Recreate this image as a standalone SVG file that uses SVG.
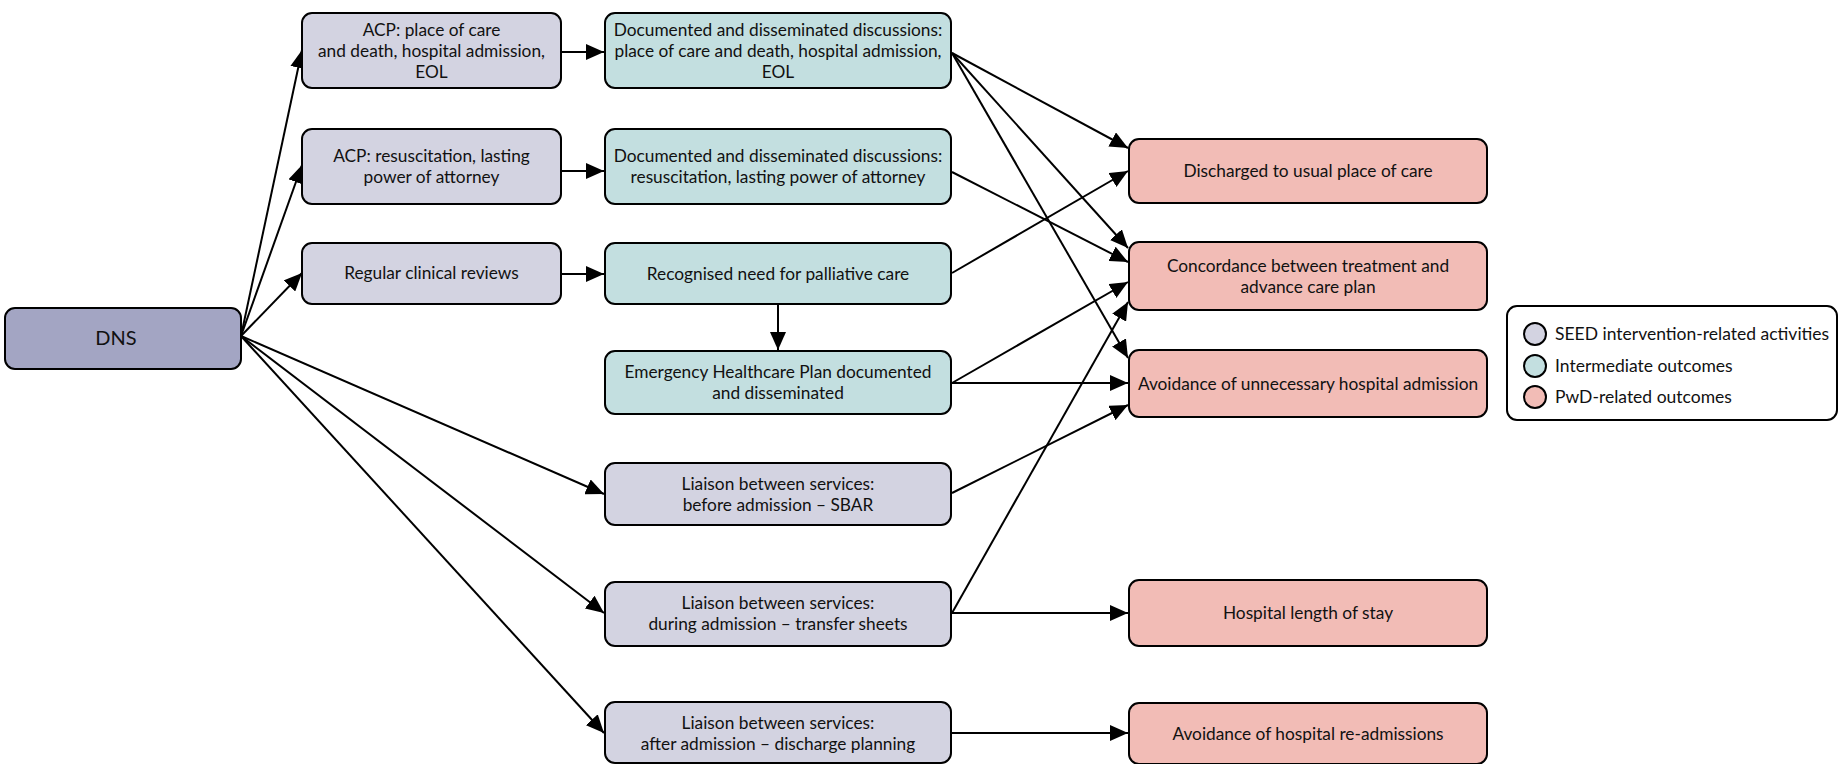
<svg xmlns="http://www.w3.org/2000/svg" width="1841" height="764" viewBox="0 0 1841 764">
<defs>
<style>
.box{stroke:#000;stroke-width:2}
.dns{fill:#a3a5c3}
.act{fill:#d3d3e1}
.mid{fill:#c3dfe0}
.out{fill:#f2bcb6}
.leg{fill:#fff;stroke:#000;stroke-width:2}
text{font-family:Lato,"Liberation Sans",sans-serif;font-size:17.3px;fill:#111;text-anchor:middle}
.lt{text-anchor:start;font-size:17.5px}
.big{font-size:20px}
.c line{stroke:#000;stroke-width:2;marker-end:url(#ah)}
</style>
<marker id="ah" markerUnits="userSpaceOnUse" markerWidth="18" markerHeight="16" refX="18" refY="8" orient="auto">
<path d="M0,0 L18,8 L0,16 z" fill="#000"/>
</marker>
</defs>
<rect width="1841" height="764" fill="#fff"/>

<g id="connectors" class="c">
<line x1="241" y1="336" x2="302" y2="50"/>
<line x1="241" y1="336" x2="302" y2="165"/>
<line x1="241" y1="336" x2="302" y2="273"/>
<line x1="241" y1="336" x2="604" y2="494"/>
<line x1="241" y1="336" x2="604" y2="613"/>
<line x1="241" y1="336" x2="604" y2="733"/>
<line x1="561" y1="52" x2="604" y2="52"/>
<line x1="561" y1="171" x2="604" y2="171"/>
<line x1="561" y1="274" x2="604" y2="274"/>
<line x1="778" y1="304" x2="778" y2="350"/>
<line x1="952" y1="53" x2="1128" y2="148"/>
<line x1="952" y1="53" x2="1128" y2="248"/>
<line x1="952" y1="53" x2="1128" y2="358"/>
<line x1="952" y1="172" x2="1128" y2="262"/>
<line x1="952" y1="273" x2="1128" y2="171"/>
<line x1="952" y1="383" x2="1128" y2="282"/>
<line x1="952" y1="383" x2="1128" y2="383"/>
<line x1="952" y1="493" x2="1128" y2="405"/>
<line x1="952" y1="613" x2="1128" y2="302"/>
<line x1="952" y1="613" x2="1128" y2="613"/>
<line x1="952" y1="733" x2="1128" y2="733"/>
</g>

<g id="dns"><rect class="box dns" x="5" y="308" width="236" height="61" rx="10"/><text class="big" x="116" y="345">DNS</text></g>

<g id="acp1"><rect class="box act" x="302" y="13" width="259" height="75" rx="10"/>
<text x="431.5" y="36">ACP: place of care</text><text x="431.5" y="57">and death, hospital admission,</text><text x="431.5" y="78">EOL</text></g>
<g id="acp2"><rect class="box act" x="302" y="129" width="259" height="75" rx="10"/>
<text x="431.5" y="162">ACP: resuscitation, lasting</text><text x="431.5" y="183">power of attorney</text></g>
<g id="reviews"><rect class="box act" x="302" y="243" width="259" height="61" rx="10"/>
<text x="431.5" y="279">Regular clinical reviews</text></g>

<g id="doc1"><rect class="box mid" x="605" y="13" width="346" height="75" rx="10"/>
<text x="778" y="36">Documented and disseminated discussions:</text><text x="778" y="57">place of care and death, hospital admission,</text><text x="778" y="78">EOL</text></g>
<g id="doc2"><rect class="box mid" x="605" y="129" width="346" height="75" rx="10"/>
<text x="778" y="162">Documented and disseminated discussions:</text><text x="778" y="183">resuscitation, lasting power of attorney</text></g>
<g id="recognised"><rect class="box mid" x="605" y="243" width="346" height="61" rx="10"/>
<text x="778" y="280">Recognised need for palliative care</text></g>
<g id="ehp"><rect class="box mid" x="605" y="351" width="346" height="63" rx="10"/>
<text x="778" y="378">Emergency Healthcare Plan documented</text><text x="778" y="399">and disseminated</text></g>

<g id="liaison1"><rect class="box act" x="605" y="463" width="346" height="62" rx="10"/>
<text x="778" y="490">Liaison between services:</text><text x="778" y="511">before admission – SBAR</text></g>
<g id="liaison2"><rect class="box act" x="605" y="582" width="346" height="64" rx="10"/>
<text x="778" y="609">Liaison between services:</text><text x="778" y="630">during admission – transfer sheets</text></g>
<g id="liaison3"><rect class="box act" x="605" y="702" width="346" height="61" rx="10"/>
<text x="778" y="729">Liaison between services:</text><text x="778" y="750">after admission – discharge planning</text></g>

<g id="discharged"><rect class="box out" x="1129" y="139" width="358" height="64" rx="10"/>
<text x="1308" y="177">Discharged to usual place of care</text></g>
<g id="concordance"><rect class="box out" x="1129" y="242" width="358" height="68" rx="10"/>
<text x="1308" y="272">Concordance between treatment and</text><text x="1308" y="293">advance care plan</text></g>
<g id="avoidance"><rect class="box out" x="1129" y="350" width="358" height="67" rx="10"/>
<text x="1308" y="390">Avoidance of unnecessary hospital admission</text></g>
<g id="los"><rect class="box out" x="1129" y="580" width="358" height="66" rx="10"/>
<text x="1308" y="619">Hospital length of stay</text></g>
<g id="readmissions"><rect class="box out" x="1129" y="703" width="358" height="61" rx="10"/>
<text x="1308" y="740">Avoidance of hospital re-admissions</text></g>

<g id="legend"><rect class="leg" x="1507" y="306" width="330" height="114" rx="10"/>
<circle class="box act" cx="1535" cy="334" r="11"/><text class="lt" x="1555" y="340">SEED intervention-related activities</text>
<circle class="box mid" cx="1535" cy="366" r="11"/><text class="lt" x="1555" y="372">Intermediate outcomes</text>
<circle class="box out" cx="1535" cy="397" r="11"/><text class="lt" x="1555" y="403">PwD-related outcomes</text></g>
</svg>
